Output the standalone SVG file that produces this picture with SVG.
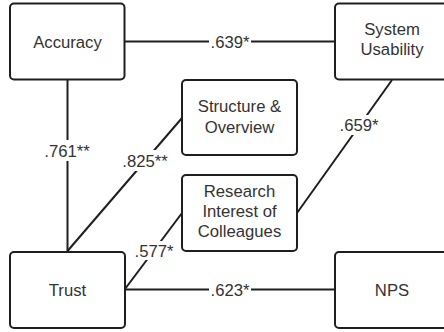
<svg xmlns="http://www.w3.org/2000/svg" width="444" height="332" viewBox="0 0 444 332">
<style>
.box{fill:#fff;stroke:#1f1f1f;stroke-width:2}
.ln{stroke:#1f1f1f;stroke-width:2;fill:none}
.t{font-family:"Liberation Sans",Arial,sans-serif;font-size:16.7px;fill:#333;text-anchor:middle}
.lb{fill:#fff}
</style>
<rect width="444" height="332" fill="#fff"/>
<g id="connectors">
<line class="ln" x1="124" y1="41.5" x2="335" y2="41.5"/>
<line class="ln" x1="67.5" y1="79" x2="67.5" y2="252"/>
<line class="ln" x1="67.5" y1="251" x2="182" y2="118"/>
<line class="ln" x1="125" y1="289" x2="182" y2="213"/>
<line class="ln" x1="297" y1="213" x2="392" y2="80"/>
<line class="ln" x1="125" y1="289.5" x2="335" y2="289.5"/>
<rect class="lb" x="209" y="33" width="42" height="17"/>
<text class="t" x="230" y="47.5">.639*</text>
<rect class="lb" x="44" y="140" width="46" height="21"/>
<text class="t" x="67" y="156.5">.761**</text>
<rect class="lb" x="122" y="150" width="46" height="21"/>
<text class="t" x="145" y="166.5">.825**</text>
<rect class="lb" x="134" y="241" width="40" height="19"/>
<text class="t" x="154" y="256.5">.577*</text>
<rect class="lb" x="338" y="115" width="42" height="20"/>
<text class="t" x="359" y="131">.659*</text>
<rect class="lb" x="209" y="281" width="42" height="17"/>
<text class="t" x="230" y="295.5">.623*</text>
</g>
<g id="accuracy">
<rect class="box" x="10" y="3.5" width="114.5" height="76" rx="4"/>
<text class="t" x="67.5" y="47.5">Accuracy</text>
</g>
<g id="system-usability">
<rect class="box" x="335" y="3.5" width="115" height="76" rx="4"/>
<text class="t" x="392" y="34.5">System</text>
<text class="t" x="392" y="55">Usability</text>
</g>
<g id="structure-overview">
<rect class="box" x="182" y="80" width="115" height="75" rx="4"/>
<text class="t" x="239.5" y="112">Structure &amp;</text>
<text class="t" x="239.5" y="132.5">Overview</text>
</g>
<g id="research-interest">
<rect class="box" x="182" y="175" width="115" height="76" rx="4"/>
<text class="t" x="239.5" y="196.5">Research</text>
<text class="t" x="239.5" y="217">Interest of</text>
<text class="t" x="239.5" y="237">Colleagues</text>
</g>
<g id="trust">
<rect class="box" x="10" y="252" width="115" height="76" rx="4"/>
<text class="t" x="67.5" y="296">Trust</text>
</g>
<g id="nps">
<rect class="box" x="335" y="252" width="115" height="76" rx="4"/>
<text class="t" x="392" y="296">NPS</text>
</g>
</svg>
